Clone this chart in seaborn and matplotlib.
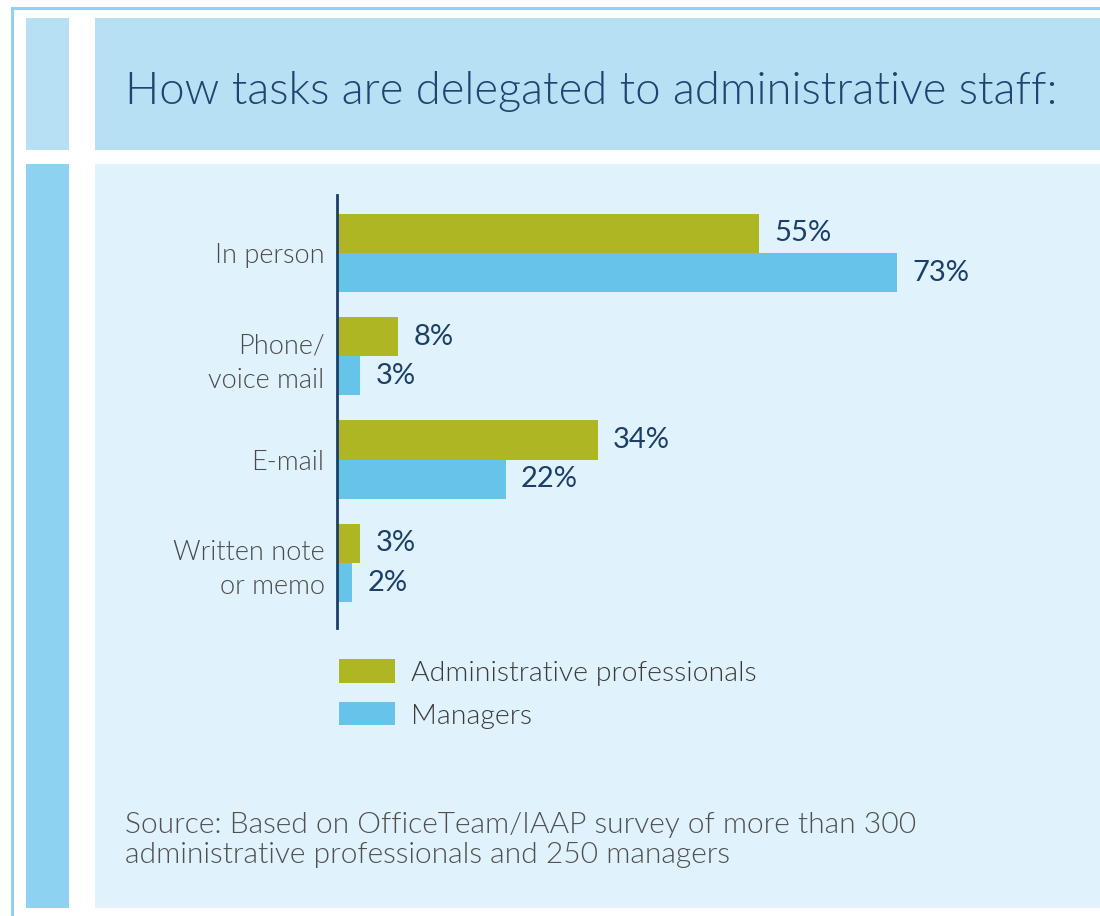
import matplotlib
matplotlib.use("Agg")
import matplotlib.pyplot as plt
from matplotlib.patches import Rectangle, Patch
import seaborn as sns
import pandas as pd

categories = ["In person", "Phone/\nvoice mail", "E-mail", "Written note\nor memo"]
groups = ["Administrative professionals", "Managers"]
admin_values = [55, 8, 34, 3]
manager_values = [73, 3, 22, 2]
title = "How tasks are delegated to administrative staff:"
source = ("Source: Based on OfficeTeam/IAAP survey of more than 300\n"
          "administrative professionals and 250 managers")

colors = {"Administrative professionals": "#aeb623", "Managers": "#66c4eb"}

rows = []
for c, v in zip(categories, admin_values):
    rows.append({"category": c, "group": groups[0], "value": v})
for c, v in zip(categories, manager_values):
    rows.append({"category": c, "group": groups[1], "value": v})
df = pd.DataFrame(rows)

sns.set_theme(style="white")
FONT = ["Lato", "DejaVu Sans"]
plt.rcParams["font.family"] = FONT

W, H = 1100, 916
fig = plt.figure(figsize=(W / 100, H / 100), dpi=100)
fig.patch.set_facecolor("white")


def frect(x0, y0, x1, y1, color):
    fig.patches.append(Rectangle((x0 / W, 1 - y1 / H), (x1 - x0) / W, (y1 - y0) / H,
                                 transform=fig.transFigure, facecolor=color,
                                 edgecolor="none", zorder=-5))


# outer border lines
frect(11, 7, 14, 916, "#8dd2f0")
frect(11, 7, 1100, 10, "#8dd2f0")
# panels
frect(26, 18, 69, 150, "#b8e0f5")
frect(95, 18, 1100, 150, "#b8e0f5")
frect(26, 164, 69, 908, "#8dd2f0")
frect(95, 164, 1100, 908, "#e0f2fc")

# axes
ax_left, ax_right, ax_top, ax_bottom = 337, 1000, 195, 628
ax = fig.add_axes([ax_left / W, 1 - ax_bottom / H, (ax_right - ax_left) / W, (ax_bottom - ax_top) / H])
ax.set_zorder(2)
ax.set_facecolor("none")
sns.barplot(data=df, y="category", x="value", hue="group", orient="h",
            palette=colors, width=0.76, ax=ax, legend=False, saturation=1,
            order=categories, hue_order=groups, linewidth=0, edgecolor="none")
ax.set_xlim(0, (ax_right - ax_left) / 7.67)
ax.set_ylim(3.63, -0.56)
ax.set_xlabel("")
ax.set_ylabel("")
ax.set_xticks([])
for s in ["top", "right", "bottom"]:
    ax.spines[s].set_visible(False)
ax.spines["left"].set_color("#1c3f66")
ax.spines["left"].set_linewidth(2)
ax.spines["left"].set_zorder(5)
ax.tick_params(axis="y", length=0, pad=9, labelsize=19.5, labelcolor="#4a4a4a")
for lbl in ax.get_yticklabels():
    lbl.set_linespacing(1.45)
    lbl.set_fontweight(300)

for cont in ax.containers:
    ax.bar_label(cont, fmt="%d%%", padding=11, fontsize=21, color="#1c3f66")

# legend
handles = [Patch(facecolor=colors[g], edgecolor="none") for g in groups]
leg = fig.legend(handles, groups, loc="upper left",
                 bbox_to_anchor=(328 / W, 1 - 648 / H), frameon=False,
                 fontsize=20.5, handlelength=1.95, handleheight=0.88,
                 handletextpad=0.55, labelspacing=0.57, borderaxespad=0)
for t in leg.get_texts():
    t.set_color("#3a3a3a")
    t.set_fontweight(300)

fig.text(125 / W, 1 - 92 / H, title, fontsize=32.7, color="#1c4670",
         ha="left", va="center", fontweight=300)
fig.text(125 / W, 1 - 840 / H, source, fontsize=21.6, color="#505050",
         ha="left", va="center", linespacing=1.22, fontweight=300)

fig.savefig("out.png", dpi=100, facecolor=fig.get_facecolor())
